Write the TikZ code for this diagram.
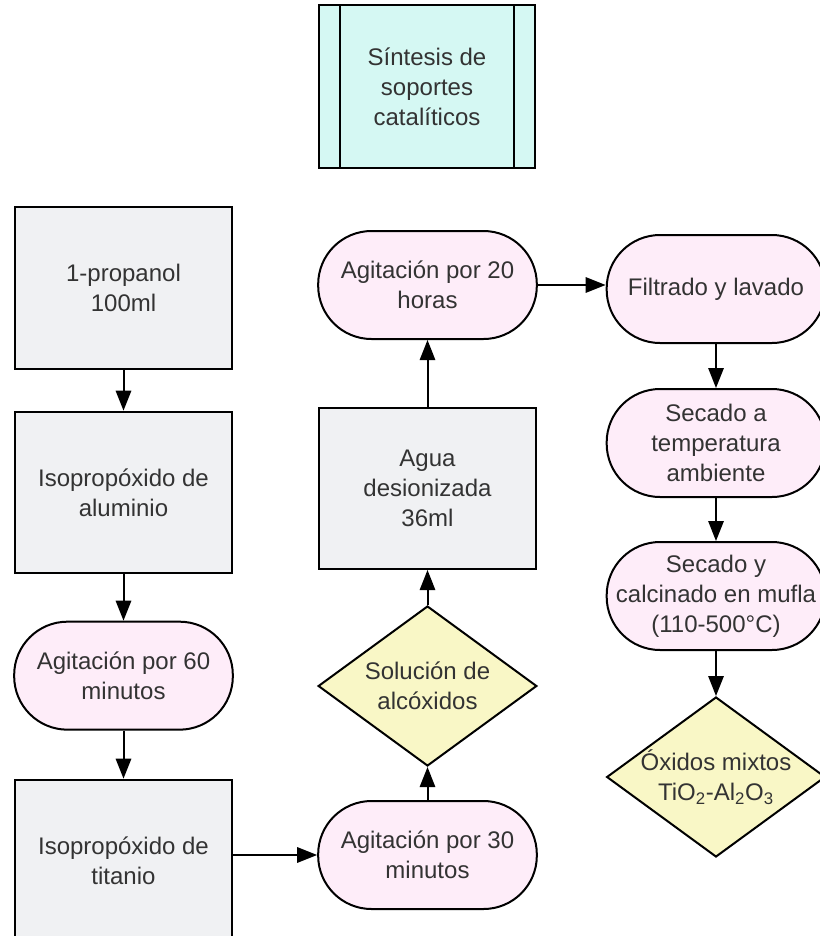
\documentclass[tikz,border=0pt]{standalone}
\usepackage{fontspec}
\setmainfont{Liberation Sans}
\usetikzlibrary{positioning, shapes.geometric, arrows.meta}

\definecolor{boxgray}{HTML}{F0F1F3}
\definecolor{pillpink}{HTML}{FEEDF9}
\definecolor{diayellow}{HTML}{F9F7C6}
\definecolor{titlecyan}{HTML}{D5F8F3}
\definecolor{txtgray}{HTML}{333333}

\begin{document}
\begin{tikzpicture}[
    x=0.75pt, y=-0.75pt,
    line width=1.5pt,
    every node/.style={font=\fontsize{18}{22.5}\selectfont, text=txtgray, align=center}, % Arial-like text
    box/.style={draw, fill=boxgray, minimum width=163pt, minimum height=121pt},
    pill/.style={draw, fill=pillpink, rounded corners=40pt, minimum width=164pt, minimum height=81pt},
    dia/.style={draw, diamond, fill=diayellow, inner sep=0pt, minimum width=164pt, minimum height=120pt},
    >={Triangle[length=15pt,width=11.5pt]}
]
\useasboundingbox (0,0) rectangle (819,936);
% title
\node[draw, fill=titlecyan, minimum width=162pt, minimum height=122pt] (title) at (427,86.5) {Síntesis de\\soportes\\catalíticos};
\draw ([xshift=16.5pt]title.north west) -- ([xshift=16.5pt]title.south west);
\draw ([xshift=-16.5pt]title.north east) -- ([xshift=-16.5pt]title.south east);
% left column
\node[box] (prop) at (123.5,288) {1-propanol\\100ml};
\node[box] (alu) [below=30.75pt of prop] {Isopropóxido de\\aluminio};
\node[pill] (ag60) [below=35pt of alu] {Agitación por 60\\minutos};
\node[box] (tit) [below=36pt of ag60] {Isopropóxido de\\titanio};
% middle column
\node[pill] (ag30) at (427.5,855) {Agitación por 30\\minutos};
\node[dia] (sol) [above=24.75pt of ag30] {\makebox[0pt]{Solución de}\\\makebox[0pt]{alcóxidos}};
\node[box] (agua) [above=26.25pt of sol] {Agua\\desionizada\\36ml};
\node[pill] (ag20) [above=50pt of agua] {Agitación por 20\\horas};
% right column
\node[pill] (filt) at (716,289) {Filtrado y lavado};
\node[pill] (sec) [below=33pt of filt] {Secado a\\temperatura\\ambiente};
\node[pill] (calc) [below=32.25pt of sec] {Secado y\\calcinado en mufla\\(110-500°C)};
\node[dia] (oxi) [below=33.75pt of calc] {\makebox[0pt]{Óxidos mixtos}\\\makebox[0pt]{TiO\textsubscript{2}-Al\textsubscript{2}O\textsubscript{3}}};
% draw the edges
\path[->]
(prop) edge (alu)
(alu) edge (ag60)
(ag60) edge (tit)
(tit.east |- ag30) edge (ag30)
(ag30) edge (sol)
(sol) edge (agua)
(agua) edge (ag20)
(ag20) edge (ag20 -| filt.west)
(filt) edge (sec)
(sec) edge (calc)
(calc) edge (oxi);
\end{tikzpicture}
\end{document}
